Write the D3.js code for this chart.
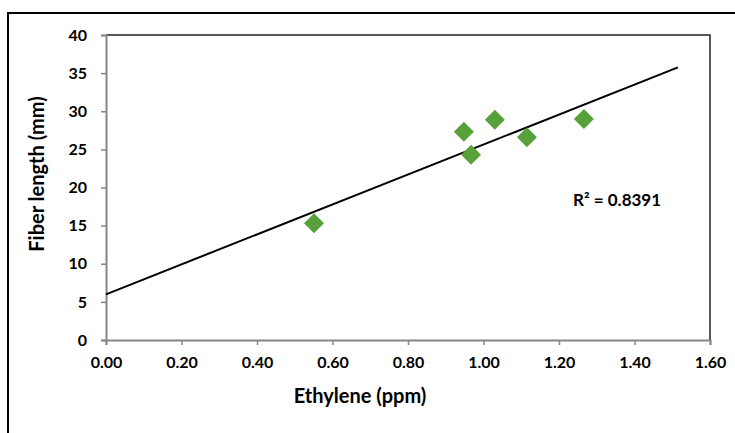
<!DOCTYPE html>
<html lang="en">
<head>
  <meta charset="UTF-8">
  <title>Fiber length vs Ethylene</title>
  <style>
    body { margin: 0; background: #fff; font-family: Lato, "Open Sans", Arial, sans-serif; }
    .tick text { font-size: 16px; font-weight: bold; fill: #000; font-family: Lato, Arial, sans-serif; }
    .axis-title { font-size: 20px; font-weight: bold; }
  </style>
</head>
<body>
  <svg width="735" height="433"></svg>

  <script src="https://d3js.org/d3.v7.min.js"></script>
  <script>
    // data
    const ethylene = [0.551, 0.948, 0.967, 1.030, 1.115, 1.266];
    const fiberLength = [15.3, 27.3, 24.3, 28.9, 26.6, 29.0];
    const xTicks = [0, 0.2, 0.4, 0.6, 0.8, 1.0, 1.2, 1.4, 1.6];
    const yTicks = [0, 5, 10, 15, 20, 25, 30, 35, 40];
    const trendRange = [0, 1.515];
    const r2Label = "R² = 0.8391";

    const width = 735, height = 433;
    const plot = { left: 106, top: 35, right: 710, bottom: 340 };

    const svg = d3.select("svg");

    // outer frame (left + top only visible)
    svg.append("path")
       .attr("d", `M8,${height} L8,13 L${width},13`)
       .attr("fill", "none")
       .attr("stroke", "#000")
       .attr("stroke-width", 2);

    const x = d3.scaleLinear().domain([0, 1.6]).range([plot.left, plot.right]);
    const y = d3.scaleLinear().domain([0, 40]).range([plot.bottom, plot.top]);

    // plot area border top/right
    svg.append("path")
       .attr("d", `M${plot.left},${plot.top} L${plot.right},${plot.top} L${plot.right},${plot.bottom}`)
       .attr("fill", "none")
       .attr("stroke", "#222")
       .attr("stroke-width", 1.5);

    // axes
    const xAxis = svg.append("g")
       .attr("transform", `translate(0,${plot.bottom})`)
       .call(d3.axisBottom(x).tickValues(xTicks).tickFormat(d3.format(".2f")).tickSizeOuter(0).tickSize(5).tickPadding(12));
    const yAxis = svg.append("g")
       .attr("transform", `translate(${plot.left},0)`)
       .call(d3.axisLeft(y).tickValues(yTicks).tickSizeOuter(0).tickSize(5).tickPadding(14));

    [xAxis, yAxis].forEach(a => {
      a.select(".domain").attr("stroke", "#868686").attr("stroke-width", 2);
      a.selectAll(".tick line").attr("stroke", "#868686").attr("stroke-width", 1.5);
    });

    // linear trendline from least squares
    const mx = d3.mean(ethylene), my = d3.mean(fiberLength);
    let sxy = 0, sxx = 0;
    ethylene.forEach((v, i) => { sxy += (v - mx) * (fiberLength[i] - my); sxx += (v - mx) * (v - mx); });
    const slope = sxy / sxx, intercept = my - slope * mx;

    svg.append("line")
       .attr("x1", x(trendRange[0])).attr("y1", y(intercept + slope * trendRange[0]))
       .attr("x2", x(trendRange[1])).attr("y2", y(intercept + slope * trendRange[1]))
       .attr("stroke", "#000")
       .attr("stroke-width", 2);

    // diamond markers
    const diamond = "M0,-10 L10,0 L0,10 L-10,0 Z";
    svg.selectAll(".pt")
       .data(ethylene.map((v, i) => [v, fiberLength[i]]))
       .join("path")
       .attr("class", "pt")
       .attr("d", diamond)
       .attr("transform", d => `translate(${x(d[0])},${y(d[1])})`)
       .attr("fill", "#58a13a");

    // R² label
    svg.append("text")
       .attr("x", 573).attr("y", 206)
       .attr("font-size", 17).attr("font-weight", "bold")
       .text(r2Label);

    // axis titles
    svg.append("text")
       .attr("class", "axis-title")
       .attr("x", 360).attr("y", 403)
       .attr("text-anchor", "middle")
       .text("Ethylene (ppm)");

    svg.append("text")
       .attr("class", "axis-title")
       .attr("transform", `translate(44,174) rotate(-90)`)
       .attr("text-anchor", "middle")
       .text("Fiber length (mm)");
  </script>
</body>
</html>
